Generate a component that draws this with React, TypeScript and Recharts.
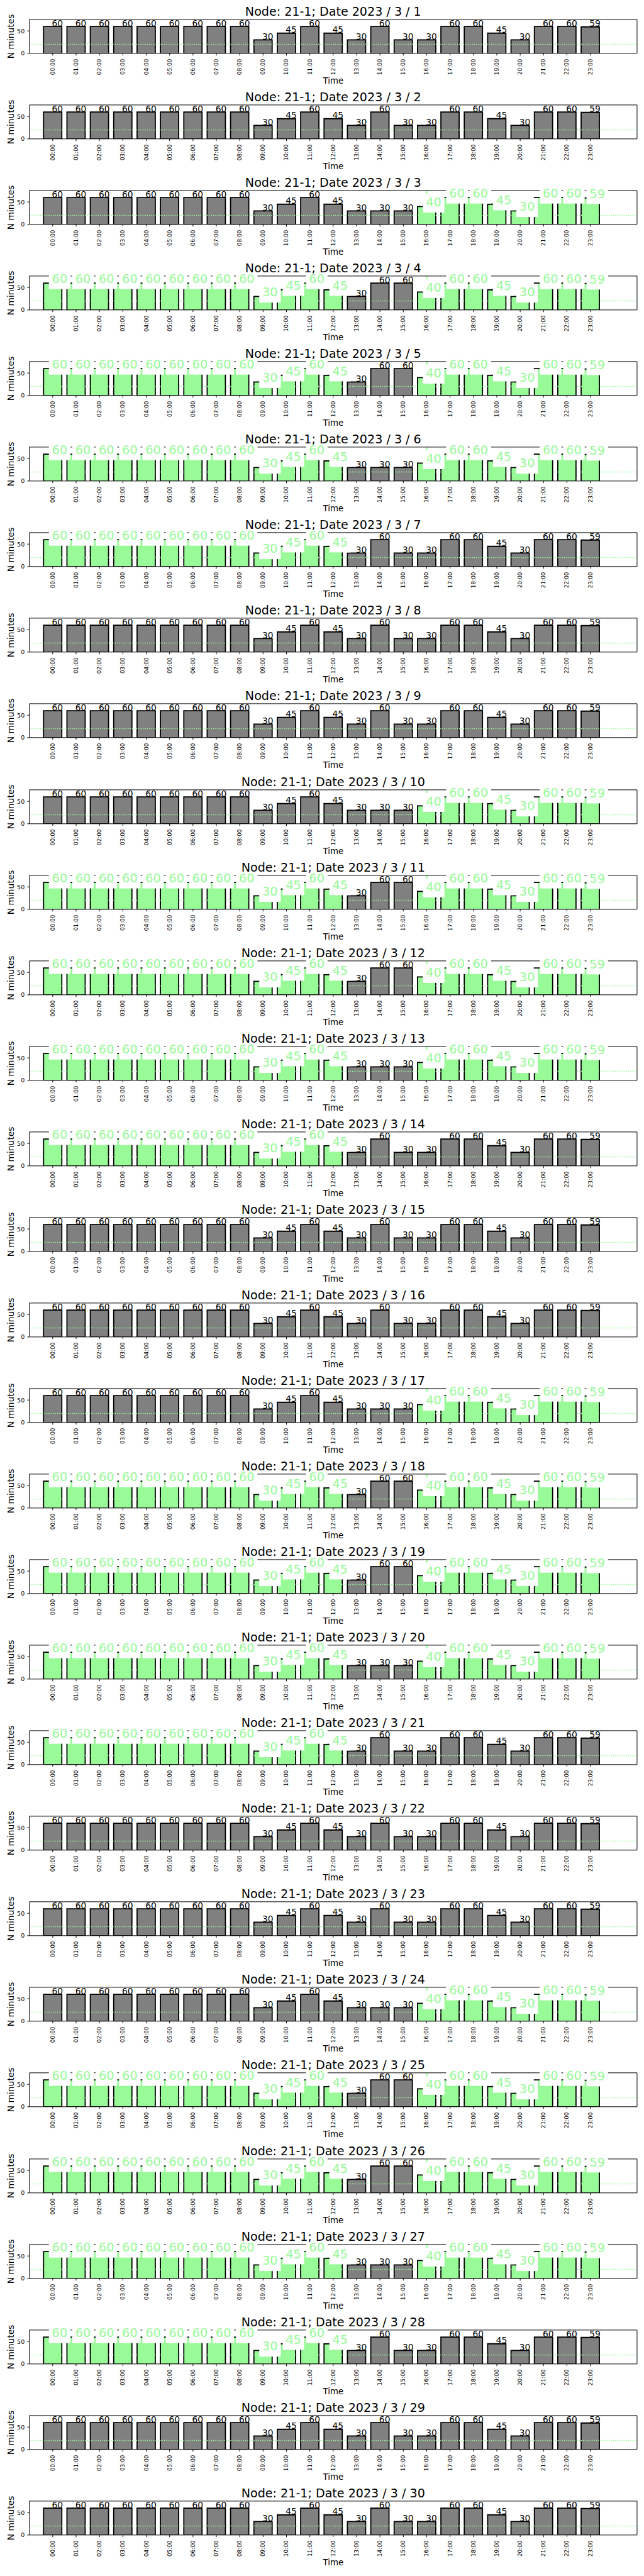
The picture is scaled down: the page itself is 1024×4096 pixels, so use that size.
import React from 'react';
import { BarChart, Bar, XAxis, YAxis, Cell, LabelList, ReferenceLine, ReferenceArea } from 'recharts';

// ---- data ----
const NODE = '21-1';
const HOURS = [
  '00:00', '01:00', '02:00', '03:00', '04:00', '05:00', '06:00', '07:00',
  '08:00', '09:00', '10:00', '11:00', '12:00', '13:00', '14:00', '15:00',
  '16:00', '17:00', '18:00', '19:00', '20:00', '21:00', '22:00', '23:00',
];
const DAYS = [1, 2, 3, 4, 5, 6, 7, 8, 9, 10, 11, 12, 13, 14, 15, 16, 17, 18, 19, 20, 21, 22, 23, 24, 25, 26, 27, 28, 29, 30];

// minutes per hour, three shapes that repeat during the month
const VALUES_BASE = [60, 60, 60, 60, 60, 60, 60, 60, 60, 30, 45, 60, 45, 30, 60, 30, 30, 60, 60, 45, 30, 60, 60, 59];
const VALUES_LOW_NOON = [60, 60, 60, 60, 60, 60, 60, 60, 60, 30, 45, 60, 45, 30, 30, 30, 40, 60, 60, 45, 30, 60, 60, 59];
const VALUES_HIGH_NOON = [60, 60, 60, 60, 60, 60, 60, 60, 60, 30, 45, 60, 45, 30, 60, 60, 40, 60, 60, 45, 30, 60, 60, 59];

// 1 = highlighted (green) hour
const GREEN_NONE = [0, 0, 0, 0, 0, 0, 0, 0, 0, 0, 0, 0, 0, 0, 0, 0, 0, 0, 0, 0, 0, 0, 0, 0];
const GREEN_EVENING = [0, 0, 0, 0, 0, 0, 0, 0, 0, 0, 0, 0, 0, 0, 0, 0, 1, 1, 1, 1, 1, 1, 1, 1];
const GREEN_SPLIT = [1, 1, 1, 1, 1, 1, 1, 1, 1, 1, 1, 1, 1, 0, 0, 0, 1, 1, 1, 1, 1, 1, 1, 1];
const GREEN_MORNING = [1, 1, 1, 1, 1, 1, 1, 1, 1, 1, 1, 1, 1, 0, 0, 0, 0, 0, 0, 0, 0, 0, 0, 0];

const DAY_KIND = [
  'G', 'G', 'X', 'Y', 'Y', 'Z', 'W',
  'G', 'G', 'X', 'Y', 'Y', 'Z', 'W',
  'G', 'G', 'X', 'Y', 'Y', 'Z', 'W',
  'G', 'G', 'X', 'Y', 'Y', 'Z', 'W',
  'G', 'G',
];

const KINDS: Record<string, { values: number[]; green: number[] }> = {
  G: { values: VALUES_BASE, green: GREEN_NONE },
  X: { values: VALUES_LOW_NOON, green: GREEN_EVENING },
  Y: { values: VALUES_HIGH_NOON, green: GREEN_SPLIT },
  Z: { values: VALUES_LOW_NOON, green: GREEN_SPLIT },
  W: { values: VALUES_BASE, green: GREEN_MORNING },
};

const THRESHOLD = 20;
const MARK_HOUR = 16;
const Y_MAX = 75.6;
const X_TICKS = HOURS.map((_, i) => i);

// ---- layout (reference px * 0.682) ----
const W = 1024;
const PITCH = 136.06;
const PLOT_TOP = 30.9;
const PLOT_H = 53.95;
const PLOT_LEFT = 46.65;
const PLOT_RIGHT = 1013;
const X_AXIS_H = PITCH - PLOT_TOP - PLOT_H;
const PLOT_CX = (PLOT_LEFT + PLOT_RIGHT) / 2;

const FONT = '"DejaVu Sans", sans-serif';
const GREY = '#808080';
const PALE = '#98fb98';

const GREEN_FS = 19.4;
const BLACK_FS = 13.8;
const PAD = 4.8;

function XTick(props: any) {
  const { x, y, payload } = props;
  const label = HOURS[payload.value];
  return (
    <text
      x={x}
      y={y}
      transform={`rotate(-90, ${x}, ${y})`}
      textAnchor="end"
      dominantBaseline="central"
      fontSize={8.9}
      fontFamily={FONT}
      fill="#000"
    >
      {label}
    </text>
  );
}

const makeLabel = (green: number[]) => (props: any) => {
  const vb = props.viewBox || {};
  const x = vb.x ?? props.x;
  const y = vb.y ?? props.y;
  const width = vb.width ?? props.width;
  const { value, index } = props;
  if (value == null) return null;
  const txt = String(value);
  const left = Number(x) + Number(width) / 2 - 1.2;
  const top = Number(y);

  if (green[index]) {
    const tw = txt.length * 0.636 * GREEN_FS;
    return (
      <g key={`lab-${index}`}>
        <rect
          x={left - PAD}
          y={top - 0.8 * GREEN_FS - PAD}
          width={tw + 2 * PAD}
          height={1.05 * GREEN_FS + 2 * PAD}
          fill="#fff"
        />
        <text x={left} y={top} fill={PALE} fontSize={GREEN_FS} fontFamily={FONT}>
          {txt}
        </text>
      </g>
    );
  }
  return (
    <text key={`lab-${index}`} x={left} y={top - 0.5} fill="#000" fontSize={BLACK_FS} fontFamily={FONT}>
      {txt}
    </text>
  );
};

function DayPanel({ day, kind, row }: { day: number; kind: string; row: number }) {
  const { values, green } = KINDS[kind];
  const data = HOURS.map((h, i) => ({ x: i, hour: h, v: values[i] }));
  const showMark = green[MARK_HOUR] === 1;

  return (
    <div style={{ position: 'absolute', left: 0, top: row * PITCH, width: W, height: PITCH }}>
      <BarChart
        width={W}
        height={PITCH}
        data={data}
        margin={{ top: PLOT_TOP, right: W - PLOT_RIGHT, bottom: 0, left: 0 }}
      >
        <XAxis
          dataKey="x"
          type="number"
          domain={[-1, 25]}
          ticks={X_TICKS}
          interval={0}
          allowDataOverflow
          height={X_AXIS_H}
          axisLine={false}
          tickLine={{ stroke: '#000', strokeWidth: 1 }}
          tickSize={3.4}
          tickMargin={5.3}
          tick={<XTick />}
          label={() => (
            <text x={PLOT_CX} y={PITCH - 3.4} textAnchor="middle" fontSize={13.4} fontFamily={FONT} fill="#000">
              Time
            </text>
          )}
        />
        <XAxis xAxisId="lab" dataKey="x" type="number" domain={[-1, 25]} ticks={X_TICKS} allowDataOverflow hide />
        <YAxis
          type="number"
          domain={[0, Y_MAX]}
          ticks={[0, 50]}
          allowDataOverflow
          width={PLOT_LEFT}
          axisLine={false}
          tickLine={{ stroke: '#000', strokeWidth: 1 }}
          tickSize={3.4}
          tickMargin={4.1}
          tick={{ fill: '#000', fontSize: 9.5, fontFamily: FONT }}
          label={() => {
            const cy = PLOT_TOP + PLOT_H / 2;
            return (
              <text
                x={22}
                y={cy}
                transform={`rotate(-90, 22, ${cy})`}
                textAnchor="middle"
                fontSize={13.9}
                fontFamily={FONT}
                fill="#000"
              >
                N minutes
              </text>
            );
          }}
        />
        <Bar dataKey="v" barSize={29} stroke="#000" strokeWidth={1.8} isAnimationActive={false}>
          {data.map((d, i) => (
            <Cell key={`c-${d.x}`} fill={green[i] ? PALE : GREY} />
          ))}
        </Bar>
        <ReferenceLine y={THRESHOLD} stroke={PALE} strokeWidth={1.4} strokeDasharray="1.4 2" zIndex={1500} />
        {showMark && <ReferenceLine x={MARK_HOUR} stroke={PALE} strokeWidth={2.2} zIndex={1500} />}
        <ReferenceArea
          x1={-1}
          x2={25}
          y1={0}
          y2={Y_MAX}
          fill="none"
          fillOpacity={0}
          stroke="#000"
          strokeWidth={1}
          zIndex={1600}
        />
        <Bar xAxisId="lab" dataKey="v" barSize={29} fill="none" isAnimationActive={false}>
          <LabelList dataKey="v" content={makeLabel(green)} />
        </Bar>
      </BarChart>
      <div
        style={{
          position: 'absolute',
          left: PLOT_CX - 300,
          width: 600,
          top: 9,
          textAlign: 'center',
          fontFamily: FONT,
          fontSize: 19.1,
          lineHeight: '19.1px',
          color: '#000',
          whiteSpace: 'nowrap',
        }}
      >
        {`Node: ${NODE}; Date 2023 / 3 / ${day}`}
      </div>
    </div>
  );
}

export default function App() {
  return (
    <div style={{ position: 'absolute', left: 0, top: 0, width: W, height: 4096, background: '#fff' }}>
      {DAYS.map((d, i) => (
        <DayPanel key={d} day={d} kind={DAY_KIND[i]} row={i} />
      ))}
    </div>
  );
}
